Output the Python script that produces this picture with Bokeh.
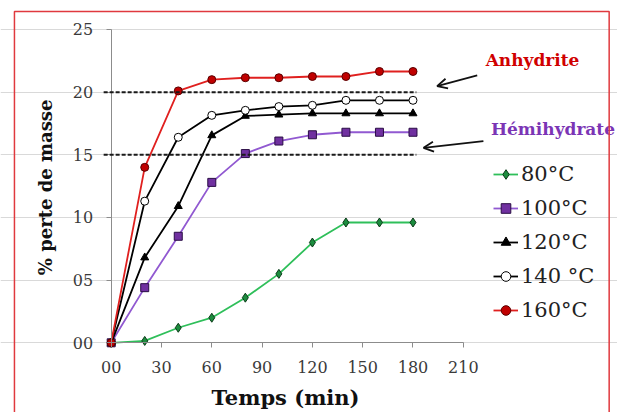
import math
from bokeh.plotting import figure
from bokeh.models import (Range1d, FixedTicker, Legend, LegendItem, Label, Arrow,
                          OpenHead, BoxAnnotation)
from bokeh.embed import file_html
from bokeh.resources import INLINE

# ---------------- data ----------------
time_min = [0, 20, 40, 60, 80, 100, 120, 140, 160, 180]
t80 = [0, 0.15, 1.2, 2.0, 3.6, 5.5, 8.0, 9.6, 9.6, 9.6]
t100 = [0, 4.4, 8.5, 12.8, 15.1, 16.1, 16.6, 16.8, 16.8, 16.8]
t120 = [0, 6.8, 10.9, 16.55, 18.1, 18.2, 18.3, 18.3, 18.3, 18.3]
t140 = [0, 11.3, 16.4, 18.15, 18.55, 18.85, 18.95, 19.35, 19.35, 19.35]
t160 = [0, 14.0, 20.1, 21.0, 21.15, 21.15, 21.25, 21.25, 21.65, 21.65]
series_names = ["80\u00b0C", "100\u00b0C", "120\u00b0C", "140 \u00b0C", "160\u00b0C"]

x_ticks = [0, 30, 60, 90, 120, 150, 180, 210]
x_tick_labels = ["00", "30", "60", "90", "120", "150", "180", "210"]
y_ticks = [0, 5, 10, 15, 20, 25]
y_tick_labels = ["00", "05", "10", "15", "20", "25"]

ref_levels = [20, 15]          # anhydrite / hemihydrate reference lines
ref_names = ["Anhydrite", "H\u00e9mihydrate"]

FONT = "DejaVu Serif"

# frame covers the whole canvas; axes are pinned at x=0 / y=0
p = figure(width=617, height=412, x_range=Range1d(-66.02, 301.97),
           y_range=Range1d(-5.562, 27.314),
           min_border_left=0, min_border_right=0, min_border_top=0,
           min_border_bottom=0, output_backend="svg", toolbar_location=None)
p.outline_line_color = None
p.background_fill_color = "white"
p.border_fill_color = "white"

for ax in (p.xaxis[0], p.yaxis[0]):
    ax.axis_line_color = "#8c8c8c"
    ax.major_tick_line_color = "#8c8c8c"
    ax.minor_tick_line_color = None
    ax.major_tick_in = 0
    ax.major_tick_out = 5
    ax.major_label_text_font = FONT
    ax.major_label_text_font_size = "16px"
    ax.major_label_text_color = "#3a3a3a"
p.xaxis.fixed_location = 0
p.yaxis.fixed_location = 0
p.xaxis.bounds = (0, 210)
p.yaxis.bounds = (0, 25)
p.xaxis.ticker = FixedTicker(ticks=x_ticks)
p.xaxis.major_label_overrides = {t: l for t, l in zip(x_ticks, x_tick_labels)}
p.xaxis.major_label_standoff = 13
p.yaxis.ticker = FixedTicker(ticks=y_ticks)
p.yaxis.major_label_overrides = {t: l for t, l in zip(y_ticks, y_tick_labels)}
p.yaxis.major_label_standoff = 13
p.xgrid.grid_line_color = None
p.ygrid.grid_line_color = "#d9d9d9"
p.ygrid.ticker = FixedTicker(ticks=y_ticks)
p.ygrid.bounds = (0, 210)

# reference dashed lines
for lvl in ref_levels:
    p.add_layout(Arrow(end=None, x_start=-4.5, y_start=lvl, x_end=182, y_end=lvl,
                       line_color="#1a1a1a", line_width=2, line_dash="4 2"))

styles = [
    dict(y=t80, line="#2fbf5a", marker="diamond", fill="#1c8c3e", mline="#0b3a18", size=9),
    dict(y=t100, line="#9159d1", marker="square", fill="#7030a0", mline="#2a0d45", size=8),
    dict(y=t120, line="#000000", marker="triangle", fill="#000000", mline="#000000", size=8),
    dict(y=t140, line="#000000", marker="circle", fill="#ffffff", mline="#000000", size=8),
    dict(y=t160, line="#e0201f", marker="circle", fill="#c00000", mline="#5a0000", size=8),
]
items = []
for name, s in zip(series_names, styles):
    l = p.line(time_min, s["y"], line_color=s["line"], line_width=1.8)
    m = p.scatter(time_min, s["y"], marker=s["marker"], size=s["size"],
                  fill_color=s["fill"], line_color=s["mline"], line_width=1)
    items.append(LegendItem(label=name, renderers=[l, m]))

legend = Legend(items=items, location=(493, 90), orientation="vertical",
                label_text_font=FONT, label_text_font_size="21px",
                label_text_color="#222222", glyph_width=25, glyph_height=24,
                label_height=24, spacing=10, label_standoff=3, padding=0, margin=0,
                border_line_color=None, background_fill_alpha=0)
p.add_layout(legend)

# annotations
p.add_layout(Label(x=251.3, y=22.53, text=ref_names[0], text_align="center",
                   text_baseline="middle", text_font=FONT, text_font_style="bold",
                   text_font_size="17px", text_color="#d00000"))
p.add_layout(Label(x=263.5, y=17.1, text=ref_names[1], text_align="center",
                   text_baseline="middle", text_font=FONT, text_font_style="bold",
                   text_font_size="17px", text_color="#7b35b5"))
p.add_layout(Arrow(end=OpenHead(size=10, line_color="#111111", line_width=1.8),
                   x_start=218.3, y_start=21.33, x_end=194.4, y_end=20.48,
                   line_color="#111111", line_width=1.8))
p.add_layout(Arrow(end=OpenHead(size=10, line_color="#111111", line_width=1.8),
                   x_start=222.0, y_start=16.09, x_end=186.3, y_end=15.56,
                   line_color="#111111", line_width=1.8))

# axis titles
p.add_layout(Label(x=104, y=-4.37, text="Temps (min)", text_align="center",
                   text_baseline="middle", text_font=FONT, text_font_style="bold",
                   text_font_size="21px", text_color="#111111"))
p.add_layout(Label(x=-39.2, y=12.4, text="% perte de masse", text_align="center",
                   text_baseline="middle", angle=math.pi / 2, text_font=FONT,
                   text_font_style="bold", text_font_size="18px", text_color="#111111"))

# red frame around the whole chart
p.add_layout(BoxAnnotation(left=-57.7, right=297.0, top=26.44, bottom=-7,
                           fill_alpha=0, line_color="#e0393e", line_alpha=1,
                           line_width=1.5, level="overlay"))

open("out.html", "w").write(file_html(p, INLINE))
